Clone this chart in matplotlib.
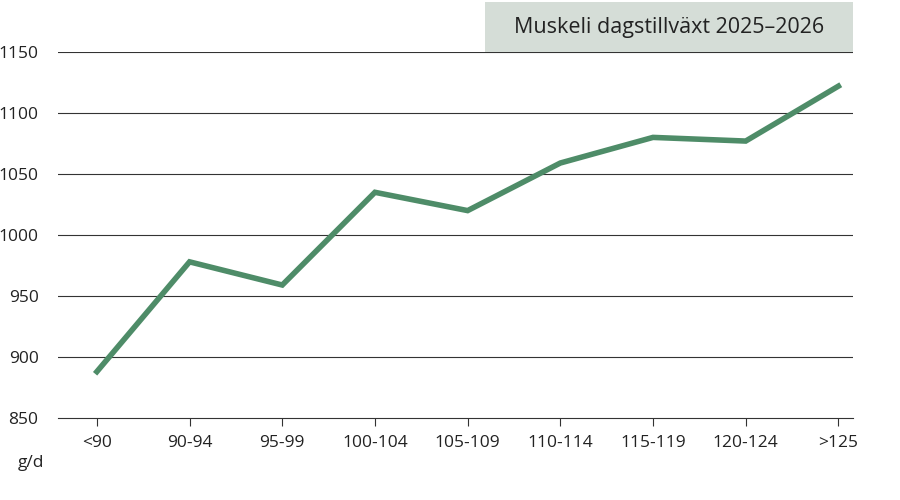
import matplotlib.pyplot as plt
from matplotlib.patches import Rectangle

plt.rcParams['font.family'] = ['Open Sans', 'DejaVu Sans']

categories = ['<90', '90-94', '95-99', '100-104', '105-109', '110-114', '115-119', '120-124', '>125']
values = [888, 978, 959, 1035, 1020, 1059, 1080, 1077, 1122]
yticks = [850, 900, 950, 1000, 1050, 1100, 1150]

fig = plt.figure(figsize=(9, 5), dpi=100)
ax = fig.add_axes([0.0644, 0.164, 0.8836, 0.732])

x = list(range(len(categories)))
ax.plot(x, values, color='#4e8c68', linewidth=4, solid_joinstyle='miter')

ax.set_ylim(850, 1150)
ax.set_xlim(-0.42, 8.16)
ax.set_yticks(yticks)
ax.set_xticks(x, categories)
for y in yticks[1:]:
    ax.axhline(y, color='#333333', linewidth=0.8, zorder=0)

for s in ['top', 'right', 'left']:
    ax.spines[s].set_visible(False)
ax.spines['bottom'].set_color('#333333')
ax.tick_params(axis='y', length=0, pad=14, labelsize=12.5, colors='#222222')
ax.tick_params(axis='x', length=6, color='#333333', labelsize=12.5, colors='#222222', pad=6)

fig.patches.append(Rectangle((485 / 900, 1 - 52 / 500), 368 / 900, 50 / 500,
                             transform=fig.transFigure, facecolor='#d5ddd7', edgecolor='none'))
fig.text(669 / 900, 1 - 28 / 500, 'Muskeli dagstillväxt 2025–2026', ha='center', va='center',
         fontsize=15.5, color='#222222')
fig.text(18 / 900, 1 - 463 / 500, 'g/d', ha='left', va='center', fontsize=12.5, color='#222222')

fig.savefig('out.png')
